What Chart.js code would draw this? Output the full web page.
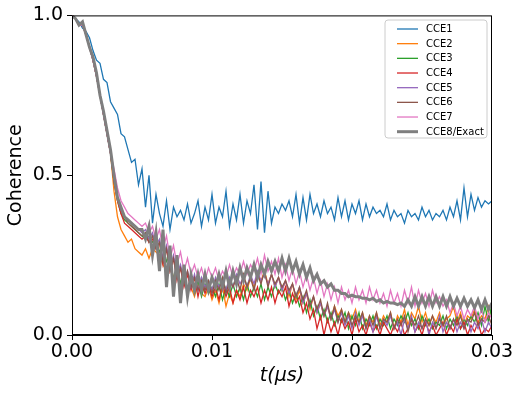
<!DOCTYPE html>
<html>
<head>
<meta charset="utf-8">
<script src="https://cdn.jsdelivr.net/npm/chart.js@4/dist/chart.umd.min.js"></script>
<style>
html,body{margin:0;padding:0;background:#fff;}
#wrap{width:523px;height:395px;position:relative;}
</style>
</head>
<body>
<div id="wrap"><canvas id="c" width="523" height="395"></canvas></div>
<script>
// time grid (µs), 0 .. 0.03 in 121 samples
const tStep = 0.00025;
const times = Array.from({length: 121}, (_, i) => +(i * tStep).toFixed(5));

const seriesNames = ["CCE1","CCE2","CCE3","CCE4","CCE5","CCE6","CCE7","CCE8/Exact"];
const seriesColors = ["#1f77b4","#ff7f0e","#2ca02c","#d62728","#9467bd","#8c564b","#e377c2","#7f7f7f"];

const xTicks = [0, 0.01, 0.02, 0.03];
const yTicks = [0, 0.5, 1.0];

const cce1 = [1.0,0.99,0.98,0.96,0.95,0.93,0.89,0.86,0.85,0.80,0.79,0.73,0.71,0.69,0.63,0.62,0.58,0.54,0.55,0.47,
0.52,0.40,0.50,0.35,0.44,0.38,0.34,0.42,0.33,0.40,0.37,0.39,0.36,0.41,0.35,0.38,0.42,0.34,0.40,0.36,
0.44,0.35,0.40,0.37,0.45,0.34,0.41,0.36,0.44,0.35,0.42,0.38,0.47,0.33,0.48,0.32,0.45,0.35,0.40,0.38,
0.41,0.39,0.42,0.37,0.44,0.35,0.43,0.36,0.44,0.38,0.41,0.37,0.42,0.38,0.40,0.36,0.43,0.37,0.42,0.36,
0.41,0.38,0.42,0.36,0.41,0.37,0.40,0.38,0.39,0.37,0.41,0.36,0.39,0.37,0.38,0.35,0.39,0.37,0.38,0.36,
0.40,0.37,0.39,0.36,0.38,0.37,0.39,0.36,0.40,0.37,0.42,0.36,0.46,0.37,0.44,0.39,0.43,0.40,0.42,0.41,0.42];

const cce2 = [1.0,0.99,0.97,0.97,0.94,0.90,0.86,0.81,0.75,0.69,0.63,0.57,0.45,0.37,0.33,0.31,0.29,0.30,0.27,0.26,
0.25,0.27,0.24,0.27,0.26,0.25,0.22,0.20,0.22,0.18,0.20,0.16,0.17,0.14,0.15,0.12,0.16,0.13,0.12,0.15,
0.11,0.14,0.10,0.15,0.09,0.13,0.10,0.14,0.12,0.16,0.14,0.18,0.15,0.19,0.17,0.20,0.16,0.19,0.15,0.18,
0.14,0.17,0.12,0.16,0.11,0.14,0.10,0.13,0.08,0.12,0.07,0.10,0.06,0.09,0.05,0.09,0.06,0.08,0.04,0.07,
0.05,0.08,0.04,0.07,0.03,0.06,0.04,0.07,0.03,0.06,0.04,0.07,0.02,0.06,0.04,0.08,0.03,0.07,0.05,0.09,
0.04,0.07,0.03,0.06,0.04,0.07,0.03,0.05,0.06,0.09,0.04,0.07,0.03,0.06,0.05,0.08,0.04,0.06,0.05,0.09,0.06];

const cce3 = [1.0,0.99,0.97,0.97,0.94,0.90,0.86,0.81,0.75,0.69,0.63,0.57,0.48,0.42,0.38,0.36,0.35,0.34,0.33,0.32,
0.31,0.30,0.31,0.29,0.30,0.26,0.28,0.23,0.25,0.17,0.22,0.16,0.20,0.14,0.18,0.13,0.17,0.12,0.16,0.13,
0.15,0.12,0.16,0.11,0.15,0.12,0.16,0.12,0.15,0.11,0.16,0.12,0.15,0.12,0.16,0.11,0.15,0.12,0.16,0.13,
0.15,0.11,0.14,0.10,0.13,0.09,0.12,0.07,0.11,0.06,0.09,0.05,0.08,0.04,0.07,0.03,0.06,0.04,0.07,0.02,
0.06,0.03,0.07,0.02,0.05,0.03,0.06,0.02,0.05,0.03,0.06,0.02,0.05,0.03,0.06,0.04,0.07,0.03,0.05,0.02,
0.06,0.03,0.05,0.02,0.04,0.03,0.06,0.02,0.05,0.03,0.06,0.02,0.05,0.03,0.06,0.04,0.07,0.03,0.09,0.04,0.10];

const cce4 = [1.0,0.99,0.97,0.97,0.94,0.90,0.86,0.81,0.75,0.69,0.63,0.57,0.48,0.42,0.38,0.35,0.34,0.33,0.32,0.31,
0.30,0.31,0.29,0.30,0.27,0.29,0.22,0.27,0.20,0.24,0.17,0.21,0.15,0.19,0.14,0.18,0.12,0.17,0.13,0.16,
0.12,0.15,0.11,0.16,0.12,0.15,0.10,0.14,0.11,0.15,0.10,0.14,0.12,0.15,0.10,0.14,0.11,0.15,0.10,0.14,
0.12,0.15,0.09,0.13,0.10,0.12,0.07,0.10,0.05,0.08,0.02,0.06,0.00,0.05,0.01,0.04,0.00,0.05,0.02,0.04,
0.00,0.05,0.01,0.03,0.00,0.04,0.01,0.03,0.00,0.04,0.02,0.00,0.03,0.01,0.04,0.00,0.02,0.05,0.01,0.03,
0.00,0.04,0.01,0.03,0.00,0.02,0.04,0.00,0.03,0.01,0.05,0.02,0.04,0.00,0.03,0.01,0.04,0.00,0.02,0.01,0.03];

const cce5 = [1.0,0.99,0.97,0.97,0.94,0.90,0.86,0.81,0.75,0.69,0.63,0.57,0.49,0.43,0.39,0.37,0.36,0.35,0.34,0.33,
0.32,0.33,0.30,0.32,0.28,0.30,0.24,0.28,0.21,0.25,0.19,0.22,0.17,0.20,0.15,0.19,0.14,0.18,0.15,0.17,
0.14,0.18,0.15,0.17,0.14,0.18,0.15,0.19,0.16,0.18,0.15,0.19,0.16,0.20,0.17,0.19,0.16,0.19,0.15,0.18,
0.14,0.17,0.13,0.16,0.12,0.15,0.10,0.13,0.09,0.12,0.07,0.10,0.06,0.09,0.05,0.08,0.04,0.07,0.03,0.06,
0.02,0.07,0.03,0.06,0.02,0.05,0.01,0.06,0.02,0.05,0.03,0.06,0.02,0.04,0.00,0.05,0.02,0.06,0.01,0.04,
0.02,0.05,0.00,0.04,0.02,0.06,0.01,0.04,0.02,0.05,0.01,0.04,0.02,0.05,0.01,0.04,0.02,0.05,0.01,0.04,0.02];

const cce6 = [1.0,0.99,0.97,0.97,0.94,0.90,0.86,0.81,0.75,0.69,0.63,0.57,0.49,0.43,0.39,0.37,0.35,0.34,0.33,0.32,
0.31,0.32,0.29,0.31,0.27,0.29,0.23,0.27,0.20,0.24,0.18,0.21,0.16,0.20,0.15,0.18,0.14,0.17,0.14,0.17,
0.13,0.17,0.14,0.18,0.13,0.17,0.15,0.18,0.14,0.19,0.15,0.18,0.14,0.19,0.16,0.20,0.15,0.19,0.16,0.18,
0.15,0.17,0.14,0.16,0.12,0.15,0.11,0.14,0.09,0.12,0.08,0.11,0.06,0.10,0.05,0.09,0.04,0.08,0.04,0.07,
0.03,0.06,0.04,0.07,0.02,0.06,0.03,0.07,0.02,0.05,0.04,0.07,0.02,0.05,0.03,0.06,0.01,0.05,0.03,0.06,
0.02,0.05,0.03,0.06,0.02,0.05,0.03,0.06,0.02,0.05,0.03,0.06,0.02,0.05,0.04,0.07,0.03,0.05,0.04,0.06,0.03];

const cce7 = [1.0,0.99,0.97,0.97,0.94,0.90,0.86,0.81,0.75,0.69,0.63,0.57,0.52,0.46,0.42,0.40,0.38,0.37,0.36,0.35,
0.34,0.35,0.32,0.34,0.30,0.33,0.27,0.31,0.24,0.28,0.22,0.26,0.20,0.24,0.19,0.22,0.18,0.21,0.17,0.21,
0.18,0.21,0.17,0.20,0.18,0.22,0.18,0.21,0.19,0.23,0.19,0.22,0.20,0.24,0.19,0.25,0.20,0.23,0.19,0.24,
0.18,0.22,0.17,0.21,0.16,0.20,0.15,0.19,0.14,0.18,0.13,0.17,0.12,0.16,0.11,0.15,0.10,0.15,0.11,0.14,
0.10,0.15,0.11,0.14,0.10,0.15,0.11,0.14,0.10,0.13,0.09,0.14,0.10,0.13,0.09,0.14,0.10,0.15,0.09,0.14,
0.10,0.13,0.09,0.14,0.10,0.12,0.09,0.11,0.07,0.10,0.06,0.09,0.05,0.08,0.06,0.09,0.05,0.08,0.04,0.07,0.05];

const cce8 = [1.0,0.99,0.97,0.98,0.94,0.90,0.87,0.82,0.75,0.70,0.64,0.58,0.50,0.43,0.40,0.37,0.36,0.35,0.34,0.33,
0.33,0.30,0.34,0.25,0.32,0.20,0.33,0.15,0.28,0.12,0.25,0.10,0.22,0.12,0.19,0.14,0.19,0.14,0.19,0.14,
0.18,0.15,0.19,0.15,0.20,0.15,0.20,0.16,0.21,0.17,0.21,0.18,0.22,0.18,0.22,0.19,0.23,0.20,0.23,0.20,
0.24,0.20,0.24,0.20,0.23,0.19,0.22,0.18,0.21,0.17,0.19,0.16,0.17,0.15,0.16,0.14,0.14,0.13,0.13,0.12,
0.125,0.12,0.12,0.115,0.115,0.11,0.115,0.105,0.11,0.10,0.105,0.10,0.10,0.095,0.10,0.09,0.11,0.09,0.12,0.09,
0.12,0.09,0.12,0.09,0.12,0.09,0.12,0.09,0.12,0.09,0.115,0.09,0.115,0.09,0.11,0.085,0.11,0.08,0.11,0.08,0.10];

const allSeries = [cce1, cce2, cce3, cce4, cce5, cce6, cce7, cce8];

const FONT = "'DejaVu Sans', sans-serif";

const datasets = allSeries.map((vals, i) => ({
  label: seriesNames[i],
  data: vals.map((v, k) => ({x: times[k], y: v})),
  borderColor: seriesColors[i],
  backgroundColor: seriesColors[i],
  borderWidth: i === 7 ? 3 : 1.3,
  pointRadius: 0,
  tension: 0,
  fill: false,
  clip: 0,
  order: 8 - i
}));

const framePlugin = {
  id: 'frame',
  afterDraw(chart) {
    const ctx = chart.ctx, a = chart.chartArea;
    ctx.save();
    ctx.strokeStyle = '#000';
    ctx.lineWidth = 1;
    ctx.strokeRect(a.left + 0.5, a.top + 0.5, a.right - a.left - 1, a.bottom - a.top - 1);
    // legend
    const bx = 385, by = 20, bw = 102, bh = 118, r = 3;
    ctx.beginPath();
    ctx.moveTo(bx + r, by);
    ctx.lineTo(bx + bw - r, by);
    ctx.arcTo(bx + bw, by, bx + bw, by + r, r);
    ctx.lineTo(bx + bw, by + bh - r);
    ctx.arcTo(bx + bw, by + bh, bx + bw - r, by + bh, r);
    ctx.lineTo(bx + r, by + bh);
    ctx.arcTo(bx, by + bh, bx, by + bh - r, r);
    ctx.lineTo(bx, by + r);
    ctx.arcTo(bx, by, bx + r, by, r);
    ctx.closePath();
    ctx.fillStyle = 'rgba(255,255,255,0.8)';
    ctx.fill();
    ctx.strokeStyle = '#cccccc';
    ctx.stroke();
    ctx.font = '10px ' + FONT;
    ctx.textBaseline = 'middle';
    ctx.textAlign = 'left';
    chart.data.datasets.forEach((ds, i) => {
      const y = 29 + i * 14.67;
      ctx.beginPath();
      ctx.strokeStyle = ds.borderColor;
      ctx.lineWidth = ds.borderWidth;
      ctx.moveTo(397, y);
      ctx.lineTo(418, y);
      ctx.stroke();
      ctx.fillStyle = '#000';
      ctx.fillText(ds.label, 426, y + 0.5);
    });
    ctx.restore();
  }
};

new Chart(document.getElementById('c'), {
  type: 'line',
  data: { datasets },
  plugins: [framePlugin],
  options: {
    responsive: false,
    animation: false,
    devicePixelRatio: 1,
    layout: { padding: { top: 15, right: 31, left: 0, bottom: 0 } },
    plugins: { legend: { display: false }, tooltip: { enabled: false } },
    scales: {
      x: {
        type: 'linear',
        min: 0, max: 0.03,
        afterFit(s) { s.height = 60; },
        afterBuildTicks(s) { s.ticks = xTicks.map(v => ({value: v})); },
        ticks: {
          color: '#000',
          font: { family: FONT, size: 19 },
          padding: 1,
          maxRotation: 0,
          callback: v => Number(v).toFixed(2)
        },
        grid: { display: true, drawOnChartArea: false, tickLength: 5, color: '#000', tickColor: '#000' },
        border: { display: true, color: '#000', width: 1 },
        title: {
          display: true,
          text: 't(\u03bcs)',
          color: '#000',
          font: { family: FONT, size: 19, style: 'italic' },
          padding: { top: 0, bottom: 8 }
        }
      },
      y: {
        type: 'linear',
        min: 0, max: 1,
        afterFit(s) { s.width = 72; },
        afterBuildTicks(s) { s.ticks = yTicks.map(v => ({value: v})); },
        ticks: {
          color: '#000',
          font: { family: FONT, size: 19 },
          padding: 4,
          callback: v => Number(v).toFixed(1)
        },
        grid: { display: true, drawOnChartArea: false, tickLength: 5, color: '#000', tickColor: '#000' },
        border: { display: true, color: '#000', width: 1 },
        title: {
          display: true,
          text: 'Coherence',
          color: '#000',
          font: { family: FONT, size: 19 },
          padding: { top: 5, bottom: 0 }
        }
      }
    }
  }
});
</script>
</body>
</html>
